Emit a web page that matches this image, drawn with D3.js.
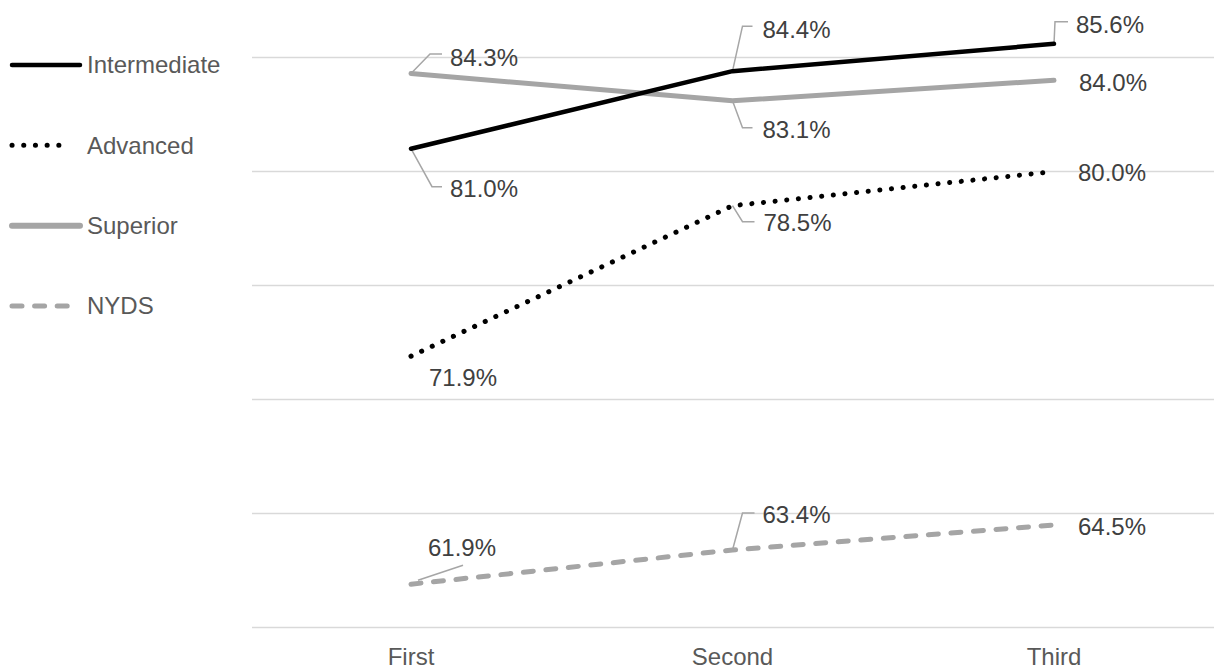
<!DOCTYPE html>
<html>
<head>
<meta charset="utf-8">
<script src="https://cdn.jsdelivr.net/npm/d3@7"></script>
<style>
  body { margin: 0; background: #fff; }
  svg text { font-family: "Liberation Sans", Arial, sans-serif; }
</style>
</head>
<body>
<div id="chart"></div>
<script>
// data
const categories = ["First", "Second", "Third"];
const seriesNames = ["Intermediate", "Advanced", "Superior", "NYDS"];
const intermediate = [81.0, 84.4, 85.6];
const advanced = [71.9, 78.5, 80.0];
const superior = [84.3, 83.1, 84.0];
const nyds = [61.9, 63.4, 64.5];
const gridTicks = [60, 65, 70, 75, 80, 85];

// styles per series
const styles = {
  Intermediate: {color: "#000", width: 4.5, dash: null},
  Advanced: {color: "#000", width: 5, dash: "0.1 11.6"},
  Superior: {color: "#a5a5a5", width: 5, dash: null},
  NYDS: {color: "#a5a5a5", width: 5, dash: "10 12.6"}
};

// label placement (text start / centre relative to point, leader bends)
const labelPos = {
  Intermediate: [
    {dx: 39, dy: 40, leader: [[21, 38], [31, 38]]},
    {dx: 30, dy: -42, leader: [[10, -45], [20, -45]]},
    {dx: 22, dy: -19, leader: [[1, -22], [14, -22]]}
  ],
  Superior: [
    {dx: 39, dy: -16, leader: [[19, -19.5], [31, -19.5]]},
    {dx: 30, dy: 29, leader: [[10, 27], [20, 27]]},
    {dx: 25, dy: 2, leader: null}
  ],
  Advanced: [
    {dx: 18, dy: 21, leader: null},
    {dx: 31, dy: 17, leader: [[10, 16], [22, 16]]},
    {dx: 24, dy: 1.5, leader: null}
  ],
  NYDS: [
    {dx: 17, dy: -37, leader: [[7, -4], [52, -19]], from: [7, -4]},
    {dx: 30, dy: -35, leader: [[10, -37], [22, -37]]},
    {dx: 24, dy: 2, leader: null}
  ]
};

const series = [
  {name: "Intermediate", values: intermediate},
  {name: "Advanced", values: advanced},
  {name: "Superior", values: superior},
  {name: "NYDS", values: nyds}
];

const W = 1214, H = 670;
const svg = d3.select("#chart").append("svg")
  .attr("width", W).attr("height", H);

const x = d3.scalePoint().domain(categories).range([411, 1054]);
const y = d3.scaleLinear().domain([60, 85]).range([627.5, 57.5]);

// gridlines
svg.append("g").selectAll("line")
  .data(gridTicks)
  .join("line")
    .attr("x1", 252).attr("x2", W)
    .attr("y1", d => y(d)).attr("y2", d => y(d))
    .attr("stroke", "#d9d9d9").attr("stroke-width", 1.5);

// category axis labels
svg.append("g").selectAll("text")
  .data(categories)
  .join("text")
    .attr("x", d => x(d)).attr("y", 665)
    .attr("text-anchor", "middle")
    .attr("font-size", 24).attr("fill", "#595959")
    .text(d => d);

const line = d3.line()
  .x((d, i) => x(categories[i]))
  .y(d => y(d));

// leader lines
series.forEach(s => {
  labelPos[s.name].forEach((lp, i) => {
    if (!lp.leader) return;
    const px = x(categories[i]), py = y(s.values[i]);
    const pts = lp.from ? lp.leader : [[0, 0]].concat(lp.leader);
    svg.append("path")
      .attr("d", d3.line()(pts.map(p => [px + p[0], py + p[1]])))
      .attr("fill", "none").attr("stroke", "#a6a6a6").attr("stroke-width", 1.5);
  });
});

// series lines (black intermediate on top where lines cross)
["NYDS", "Advanced", "Superior", "Intermediate"].forEach(name => {
  const s = series.find(d => d.name === name);
  const st = styles[name];
  svg.append("path")
    .datum(s.values)
    .attr("d", line)
    .attr("fill", "none")
    .attr("stroke", st.color)
    .attr("stroke-width", st.width)
    .attr("stroke-linecap", "round")
    .attr("stroke-linejoin", "round")
    .attr("stroke-dasharray", st.dash);
});

// data labels
series.forEach(s => {
  svg.append("g").selectAll("text")
    .data(s.values)
    .join("text")
      .attr("x", (d, i) => x(categories[i]) + labelPos[s.name][i].dx)
      .attr("y", (d, i) => y(d) + labelPos[s.name][i].dy)
      .attr("dy", "0.35em")
      .attr("font-size", 24).attr("fill", "#404040")
      .text(d => d.toFixed(1) + "%");
});

// legend
const legendY = d3.scalePoint().domain(seriesNames).range([65, 306]);
const legendEnd = {Intermediate: 80, Advanced: 70, Superior: 80, NYDS: 72};
const legend = svg.append("g").selectAll("g")
  .data(seriesNames)
  .join("g")
    .attr("transform", d => `translate(0,${legendY(d)})`);
legend.append("line")
  .attr("x1", 12)
  .attr("x2", d => legendEnd[d])
  .attr("stroke", d => styles[d].color)
  .attr("stroke-width", d => d === "Superior" ? 6 : styles[d].width)
  .attr("stroke-linecap", "round")
  .attr("stroke-dasharray", d => styles[d].dash);
legend.append("text")
  .attr("x", 87).attr("dy", "0.35em")
  .attr("font-size", 24).attr("fill", "#595959")
  .text(d => d);
</script>
</body>
</html>
